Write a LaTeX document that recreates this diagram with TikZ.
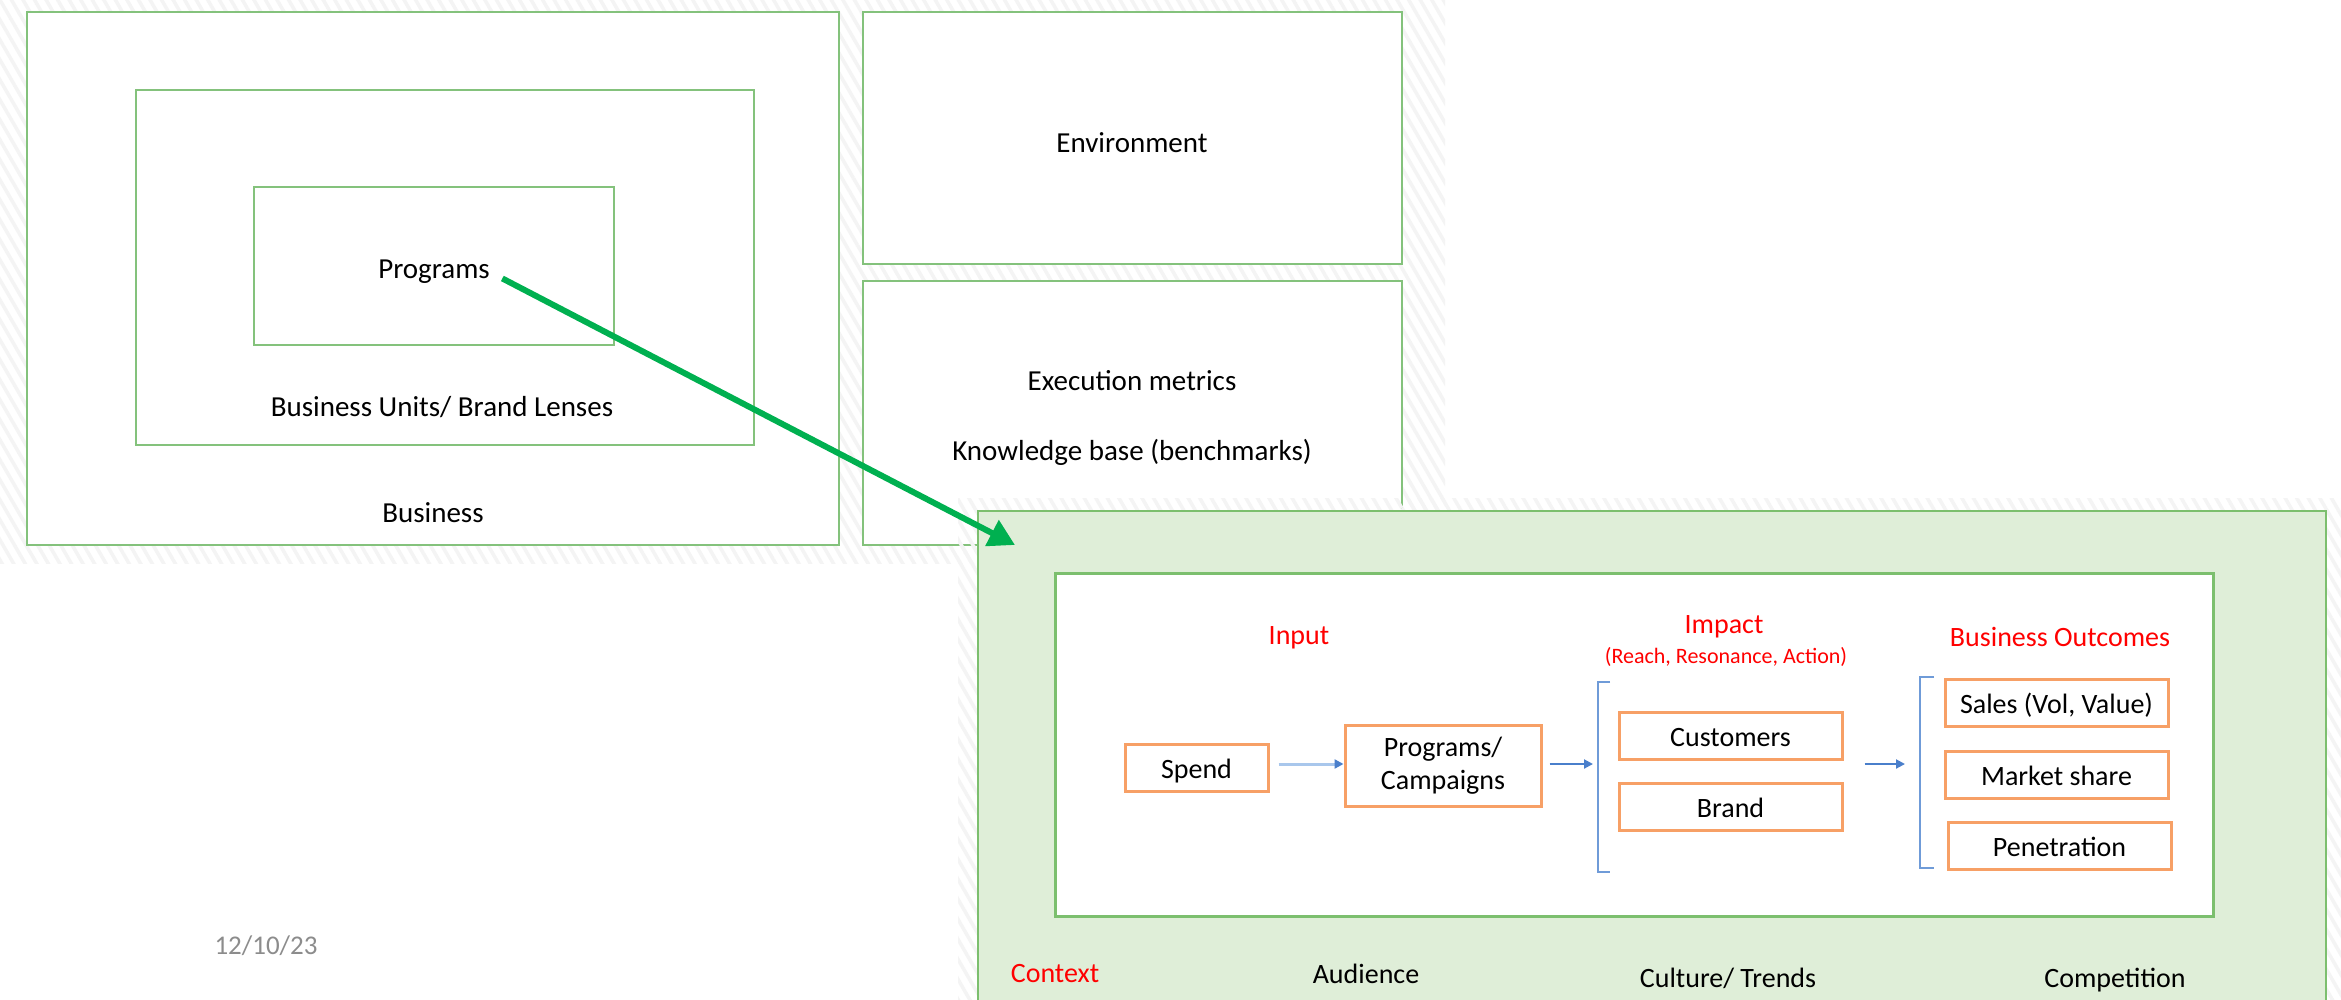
\documentclass[tikz,border=0pt]{standalone}
\usepackage{fontspec}
\setmainfont{Carlito}
\usetikzlibrary{arrows.meta,patterns.meta}
\definecolor{framegreen}{HTML}{84C27C}
\definecolor{panelgreen}{HTML}{DFEED8}
\definecolor{paneledge}{HTML}{7CBF6E}
\definecolor{arrowgreen}{HTML}{00B050}
\definecolor{boxorange}{HTML}{F7A066}
\definecolor{flowblue}{HTML}{4A7FCB}
\definecolor{flowlight}{HTML}{A9C7EC}
\definecolor{bracketblue}{HTML}{6F9BD8}
\definecolor{dategray}{HTML}{8C8C8C}
\definecolor{hatchgray}{HTML}{F4F4F4}
\begin{document}
\begin{tikzpicture}[x=1pt,y=-1pt,
  frame/.style={draw=framegreen, line width=2pt, fill=white, inner sep=0pt},
  lbl/.style={font=\fontsize{29}{34}\selectfont, inner sep=0pt},
  redlbl/.style={font=\fontsize{28}{33}\selectfont, text=red, inner sep=0pt},
  ctxlbl/.style={font=\fontsize{28}{33}\selectfont, inner sep=0pt},
  metric/.style={draw=boxorange, line width=3pt, fill=white, minimum width=223pt,
    minimum height=47pt, font=\fontsize{28}{33}\selectfont, align=center, inner sep=0pt},
  oneline/.style={text height=26pt, text depth=4pt},
  flow/.style={draw=flowblue, line width=2pt, -{Triangle[length=9pt,width=9pt]}},
  bracketline/.style={draw=bracketblue, line width=2.5pt},
  bigarrow/.style={draw=arrowgreen, line width=6pt, -{Triangle[length=26pt,width=28pt]}},
  hatch/.style={pattern={Lines[angle=120,distance=10pt,line width=3.5pt]}, pattern color=hatchgray}
]
\useasboundingbox (0,0) rectangle (2341,1000);
\clip (0,0) rectangle (2341,1000);
\fill[white] (0,0) rectangle (2341,1000);

% textured backdrop behind the upper panels
\fill[hatch] (0,0) rectangle (1445,563);

% nested business frames
\node[frame, minimum width=812pt, minimum height=533pt] (business) at (433,278.5) {};
\node[frame, minimum width=618pt, minimum height=355pt] (units) at (445,267.5) {};
\node[frame, minimum width=360pt, minimum height=158pt] (progbox) at (434,266) {};
\node[lbl] (proglbl) at (434,272) {Programs};
\node[lbl] (unitslbl) at (442,407) {Business Units/ Brand Lenses};
\node[lbl] (businesslbl) at (433,513) {Business};

% environment and execution frames
\node[frame, minimum width=539pt, minimum height=252pt] (env) at (1132.5,138) {};
\node[frame, minimum width=539pt, minimum height=264pt] (exec) at (1132.5,413) {};
\node[lbl] (envlbl) at (1132,143) {Environment};
\node[lbl] (execlbl) at (1132,381) {Execution metrics};
\node[lbl] (kblbl) at (1132,452) {Knowledge base (benchmarks)};

% date
\node[font=\fontsize{27}{32}\selectfont, text=dategray, inner sep=0pt] (date) at (266,946) {12/10/23};

% context panel
\fill[hatch] (958,498) rectangle (2341,1000);
\node[draw=paneledge, line width=2pt, fill=panelgreen, minimum width=1348pt,
  minimum height=499pt, inner sep=0pt] (panel) at (1652,760.5) {};
\node[draw=paneledge, line width=3pt, fill=white, minimum width=1158pt,
  minimum height=343pt, inner sep=0pt] (inner) at (1634,744.5) {};

% column headings
\node[redlbl] (inputlbl) at (1299,638) {Input};
\node[redlbl] (impactlbl) at (1724,627) {Impact};
\node[redlbl, font=\fontsize{22}{26}\selectfont] (impactsub) at (1726,657) {(Reach, Resonance, Action)};
\node[redlbl] (outcomelbl) at (2060,637) {Business Outcomes};

% flow boxes
\node[metric, oneline, minimum width=143pt] (spend) at (1196.5,767.5) {Spend};
\node[metric, minimum width=196pt, minimum height=81pt] (progcamp) at (1443,765.5) {Programs/\\Campaigns};
\node[metric, oneline] (customers) at (1730.5,735.5) {Customers};
\node[metric, oneline] (brand) at (1730.5,806.5) {Brand};
\node[metric, oneline] (sales) at (2056.5,702.5) {Sales (Vol, Value)};
\node[metric, oneline] (share) at (2056.5,774.5) {Market share};
\node[metric, oneline] (penetration) at (2059.5,845.5) {Penetration};

% brackets grouping the impact and outcome boxes
\draw[bracketline] (1610,682) -- (1598,682) -- (1598,872) -- (1610,872);
\draw[bracketline] (1934,677) -- (1920,677) -- (1920,868) -- (1934,868);
\coordinate (bkimpact) at (1598,764);
\coordinate (bkoutcome) at (1920,764);

% flow arrows
\draw[draw=flowlight, line width=3pt, -{Triangle[length=9pt,width=9pt,fill=flowblue,color=flowblue]}, shorten <=9pt]
  ([yshift=3.5pt]spend.east) -- ([yshift=1.5pt]progcamp.west);
\draw[flow, shorten <=7pt, shorten >=5pt] ([yshift=1.5pt]progcamp.east) -- (bkimpact);
\draw[flow, shorten <=21pt, shorten >=15pt] ([yshift=-28.5pt]customers.east) -- (bkoutcome);

% context factors
\node[redlbl] (ctxlbl) at (1055,974) {Context};
\node[ctxlbl] (audience) at (1366,974) {Audience};
\node[ctxlbl] (culture) at (1728,978) {Culture/ Trends};
\node[ctxlbl] (competition) at (2115,980) {Competition};

% zoom arrow from the programs frame into the detail panel
\coordinate (zoomtip) at (1015,545);
\draw[bigarrow, shorten <=14pt] (proglbl.east) -- (zoomtip);
\end{tikzpicture}
\end{document}
